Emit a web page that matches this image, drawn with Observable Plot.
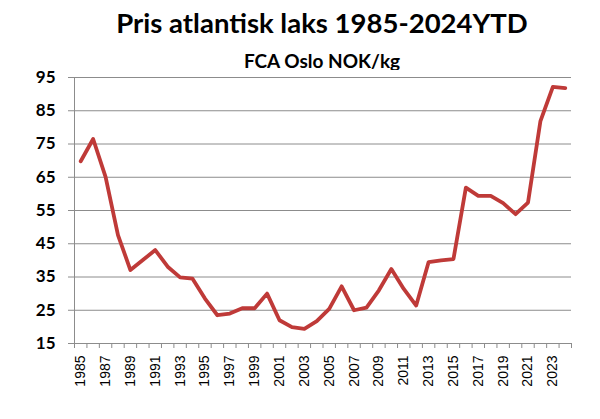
<!DOCTYPE html>
<html>
<head>
<meta charset="utf-8">
<script src="https://cdn.jsdelivr.net/npm/d3@7"></script>
<script src="https://cdn.jsdelivr.net/npm/@observablehq/plot@0.6"></script>
<style>
  html, body { margin: 0; padding: 0; background: #fff; }
  #wrap { width: 600px; height: 419px; position: relative; overflow: hidden; }
  #title { position: absolute; top: 5px; left: 44px; width: 556px; text-align: center;
           font-family: Lato, "Open Sans", sans-serif; font-weight: bold; font-size: 27.5px; color: #000; line-height: 36px; white-space: nowrap; }
  #subtitle { position: absolute; top: 50px; left: 44px; width: 556px; text-align: center;
           font-family: Lato, "Open Sans", sans-serif; font-weight: bold; font-size: 19px; color: #000; line-height: 22px; white-space: nowrap; }
  #chart { position: absolute; top: 70px; left: 0; }
</style>
</head>
<body>
<div id="wrap">
  <div id="title">Pris atlantisk laks 1985-2024YTD</div>
  <div id="subtitle">FCA Oslo NOK/kg</div>
  <div id="chart"></div>
</div>
<script>
const years = [1985,1986,1987,1988,1989,1990,1991,1992,1993,1994,1995,1996,1997,1998,1999,2000,2001,2002,2003,2004,2005,2006,2007,2008,2009,2010,2011,2012,2013,2014,2015,2016,2017,2018,2019,2020,2021,2022,2023,2024];
const prices = [69.8,76.5,65.1,47.6,37.1,40.1,43.1,38.1,34.9,34.5,28.5,23.5,24.0,25.6,25.6,30.0,22.0,19.9,19.4,21.7,25.4,32.2,25.0,25.8,31.0,37.4,31.4,26.4,39.5,40.0,40.4,61.9,59.4,59.4,57.2,53.9,57.4,81.9,92.2,91.8];
const yTicks = [15,25,35,45,55,65,75,85,95];
const xLabelYears = years.filter((y, i) => i % 2 === 0);

const data = years.map((y, i) => ({year: y, price: prices[i]}));
const boundaries = years.map(y => y - 0.5).concat([years[years.length - 1] + 0.5]);
const xMin = years[0] - 0.5, xMax = years[years.length - 1] + 0.5;

const chart = Plot.plot({
  width: 600,
  height: 349,
  marginTop: 7,
  marginBottom: 76,
  marginLeft: 74,
  marginRight: 29,
  style: {fontFamily: "Lato, 'Open Sans', sans-serif", background: "#fff", overflow: "visible"},
  x: {type: "linear", domain: [xMin, xMax], axis: null},
  y: {domain: [15, 95], axis: null},
  marks: [
    Plot.ruleY(yTicks, {x1: xMin, x2: xMax, stroke: "#8c8c8c", strokeWidth: 1}),
    Plot.ruleX([xMin], {y1: 15, y2: 95, stroke: "#8c8c8c", strokeWidth: 1}),
    Plot.axisY({ticks: yTicks, tickSize: 6, tickPadding: 13, stroke: "#8c8c8c", strokeOpacity: 1,
      fontSize: 17, fontWeight: "bold", fill: "#000", label: null, tickFormat: d => String(d)}),
    Plot.axisX({ticks: boundaries, tickSize: 5, tickFormat: () => "", stroke: "#8c8c8c", strokeOpacity: 1, label: null}),
    Plot.axisX({ticks: xLabelYears, tickSize: 0, tickPadding: 12, tickRotate: -90, fontSize: 14,
      fill: "#000", label: null, tickFormat: d => String(d), fontFamily: "'Liberation Sans', sans-serif"}),
    Plot.line(data, {x: "year", y: "price", stroke: "#bf3a38", strokeWidth: 3.8, strokeLinejoin: "round", strokeLinecap: "round"})
  ]
});
document.getElementById("chart").appendChild(chart);
</script>
</body>
</html>
